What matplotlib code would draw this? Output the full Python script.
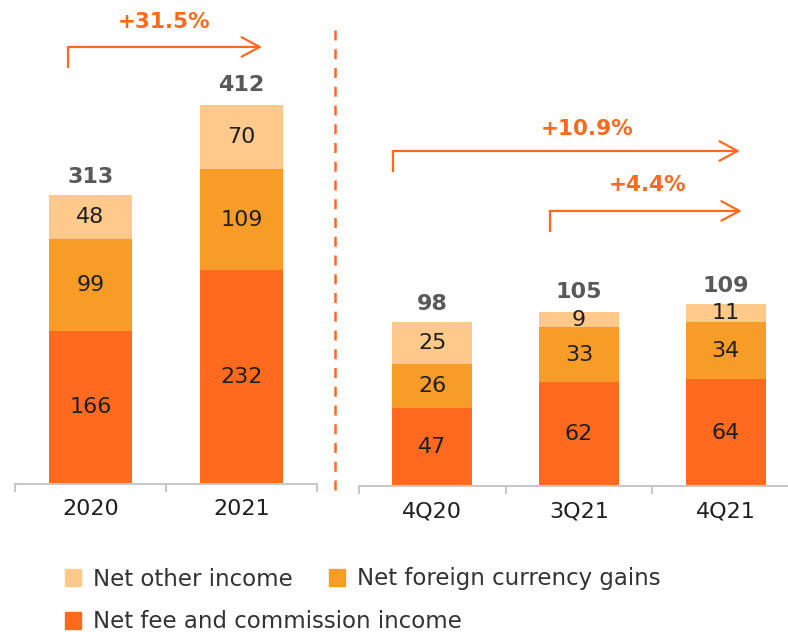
import numpy as np
import matplotlib
matplotlib.use("Agg")
import matplotlib.pyplot as plt
from matplotlib.patches import Patch

plt.rcParams.update({"font.family": ["DejaVu Sans"]})

# --- data ---
years = ["2020", "2021"]
quarters = ["4Q20", "3Q21", "4Q21"]
fee_y = [166, 232]
fx_y = [99, 109]
other_y = [48, 70]
total_y = [313, 412]
fee_q = [47, 62, 64]
fx_q = [26, 33, 34]
other_q = [25, 9, 11]
total_q = [98, 105, 109]
series_names = ["Net other income", "Net foreign currency gains", "Net fee and commission income"]

FEE, FX, OTHER = "#FF6A1E", "#F89C28", "#FFC98C"
ARROW, TOTAL, INK, AXC = "#FF6A1E", "#595959", "#1f1f1f", "#c8c8c8"
FS = 16

W, H = 788, 632
fig = plt.figure(figsize=(W / 100, H / 100), dpi=100)

def px_axes(x0, x1, base, top):
    return fig.add_axes([x0 / W, (H - base) / H, (x1 - x0) / W, (base - top) / H])

axL = px_axes(15, 317, 484, 22.5)      # 0.923 px per unit -> ylim 500
axR = px_axes(359, 799, 486, 18.4)     # 1.67 px per unit -> ylim 280

def stacked(ax, cats, fee, fx, other, total, width, ymax, lab_off):
    x = np.arange(len(cats))
    ax.bar(x, fee, width, color=FEE)
    ax.bar(x, fx, width, bottom=fee, color=FX)
    bot = np.array(fee) + np.array(fx)
    ax.bar(x, other, width, bottom=bot, color=OTHER)
    for vals, bottoms in [(fee, np.zeros(len(x))), (fx, np.array(fee)), (other, bot)]:
        for xi, v, b in zip(x, vals, bottoms):
            ax.text(xi, b + v / 2, str(v), ha="center", va="center", fontsize=FS, color=INK)
    for xi, t in zip(x, total):
        ax.annotate(str(t), (xi, t), xytext=(0, lab_off), textcoords="offset points",
                    ha="center", va="bottom", fontsize=FS, fontweight="bold", color=TOTAL)
    ax.set_xlim(-0.5, len(cats) - 0.5)
    ax.set_ylim(0, ymax)
    ax.set_xticks(x)
    ax.set_xticklabels(cats, fontsize=FS, color=INK)
    ax.set_xticks(np.arange(-0.5, len(cats)), minor=True)
    ax.tick_params(axis="x", which="major", length=0, pad=11)
    ax.tick_params(axis="x", which="minor", length=6, width=1.5, color=AXC)
    ax.set_yticks([])
    for s in ["top", "right", "left"]:
        ax.spines[s].set_visible(False)
    ax.spines["bottom"].set_color(AXC)
    ax.spines["bottom"].set_linewidth(1.5)
    ax.patch.set_alpha(0)

stacked(axL, years, fee_y, fx_y, other_y, total_y, 0.55, 500, 6)
stacked(axR, quarters, fee_q, fx_q, other_q, total_q, 0.545, 280, 6)

def growth(ax, x0, x1, y0, y1, label, tx, ty):
    ax.plot([x0, x0], [y0, y1], color=ARROW, lw=1.6, clip_on=False, solid_capstyle="butt")
    ax.annotate("", xy=(x1, y1), xytext=(x0, y1), annotation_clip=False,
                arrowprops=dict(arrowstyle="->,head_length=1.3,head_width=0.7", color=ARROW,
                                lw=1.6, shrinkA=0, shrinkB=0))
    ax.text(tx, ty, label, ha="center", va="center", fontsize=FS - 0.5, fontweight="bold",
            color=ARROW, clip_on=False)

growth(axL, -0.149, 1.136, 450.7, 473.5, "+31.5%", 0.49, 500.5)
growth(axR, -0.268, 2.097, 188.0, 200.6, "+10.9%", 1.054, 214.0)
growth(axR, 0.80, 2.11, 152.0, 164.7, "+4.4%", 1.47, 180.2)

# dashed separator
fig.add_artist(plt.Line2D([335 / W, 335 / W], [(H - 490) / H, (H - 30) / H],
                          color=ARROW, lw=1.8, ls=(0, (4, 3.5))))

leg_kw = dict(loc="center left", frameon=False, fontsize=16.5, handlelength=0.7, handleheight=0.7,
              handletextpad=0.52, columnspacing=1.57, labelcolor="#333333", borderaxespad=0, borderpad=0)
fig.legend([Patch(color=OTHER), Patch(color=FX)], [series_names[0], series_names[1]], ncol=2,
           bbox_to_anchor=(65 / W, 1 - 579 / H), **leg_kw)
fig.legend([Patch(color=FEE)], [series_names[2]], bbox_to_anchor=(65 / W, 1 - 622 / H), **leg_kw)

fig.savefig("out.png", dpi=100)
